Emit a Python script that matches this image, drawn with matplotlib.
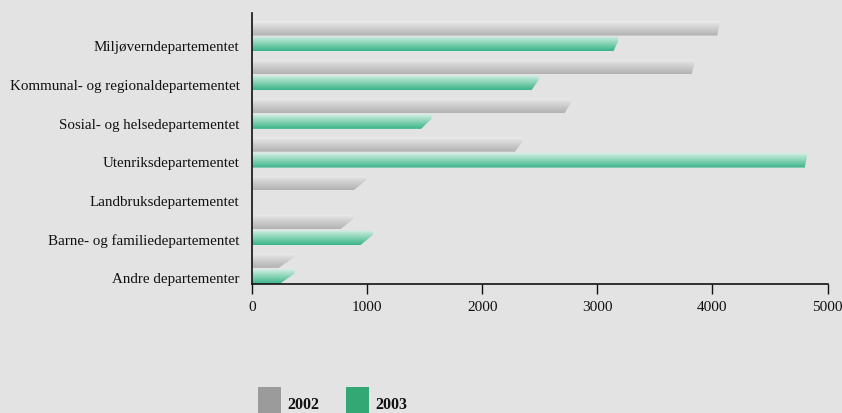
import numpy as np
import matplotlib.pyplot as plt
from matplotlib.patches import Polygon, Rectangle
from matplotlib.colors import to_rgb

departments = ['Miljøverndepartementet', 'Kommunal- og regionaldepartementet',
               'Sosial- og helsedepartementet', 'Utenriksdepartementet',
               'Landbruksdepartementet', 'Barne- og familiedepartementet',
               'Andre departementer']
v2002 = [4060, 3840, 2770, 2350, 990, 880, 360]
v2003 = [3180, 2490, 1560, 4820, 0, 1050, 370]
years = ['2002', '2003']

bg = '#e3e3e3'
gray_grad = ['#ececec', '#d6d6d6', '#c4c4c4', '#b2b2b2']
green_grad = ['#d2f0e4', '#9fdcc4', '#6cc9a6', '#3cb48a']
legend_cols = ['#9b9b9b', '#33a874']

plt.rcParams['font.family'] = ['Liberation Serif', 'DejaVu Serif']

fig = plt.figure(figsize=(8.42, 4.13), dpi=100, facecolor=bg)
ax = fig.add_axes([0.2993, 0.3123, 0.6835, 0.6562])
ax.set_facecolor('none')

y = np.arange(len(departments))
h = 0.375
off = 0.205
px = 5000 / 575.5  # data units per pixel along x


def gradient_bar(val, yc, cols):
    if val <= 0:
        return
    top, bot = yc - h / 2, yc + h / 2
    ch = max(2, 16 - val / 280) * px
    ch = min(ch, val)
    poly = Polygon([(0, top), (val, top), (val, top + 0.3 * h),
                    (val - ch, bot), (0, bot)], closed=True,
                   facecolor='none', edgecolor='none')
    ax.add_patch(poly)
    rgb = np.array([to_rgb(c) for c in cols])
    t = np.linspace(0, 1, 40)
    grad = np.stack([np.interp(t, np.linspace(0, 1, len(cols)), rgb[:, k]) for k in range(3)], axis=1)
    img = grad[:, None, :]
    im = ax.imshow(img, extent=(0, val, bot, top), origin='upper',
                   aspect='auto', interpolation='bilinear', zorder=2)
    im.set_clip_path(poly)


for i in range(len(departments)):
    gradient_bar(v2002[i], y[i] - off, gray_grad)
    gradient_bar(v2003[i], y[i] + off, green_grad)

ax.set_xlim(0, 5000)
ax.set_ylim(6.4, -0.6)
ax.set_xticks([0, 1000, 2000, 3000, 4000, 5000])
ax.set_yticks(y + off + 0.05)
ax.set_yticklabels(departments, fontsize=10.8, color='#111111')
ax.tick_params(axis='y', length=0, pad=9)
ax.tick_params(axis='x', length=7, width=1, pad=5, labelsize=11, colors='#111111')
for s in ['top', 'right']:
    ax.spines[s].set_visible(False)
for s in ['left', 'bottom']:
    ax.spines[s].set_color('#111111')
    ax.spines[s].set_linewidth(1.2)

# legend
lx = [258 / 842, 346 / 842]
for k in range(2):
    fig.patches.append(Rectangle((lx[k], -0.01), 23 / 842, 30 / 413,
                                 transform=fig.transFigure,
                                 facecolor=legend_cols[k], edgecolor='none'))
    fig.text(lx[k] + 29 / 842, 8 / 413, years[k], fontsize=11.5,
             fontweight='bold', va='center', ha='left', color='#111111')

fig.savefig('out.png', dpi=100, facecolor=bg)
